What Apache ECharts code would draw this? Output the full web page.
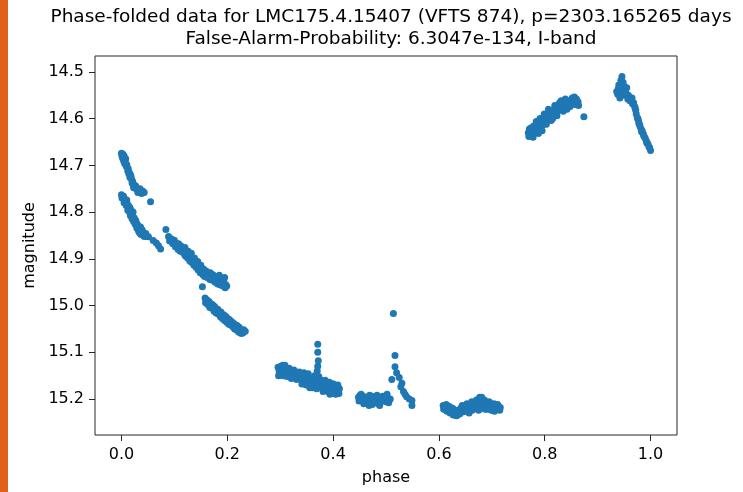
<!DOCTYPE html>
<html>
<head>
<meta charset="utf-8">
<script src="https://cdn.jsdelivr.net/npm/echarts@6/dist/echarts.min.js"></script>
<style>
html,body{margin:0;padding:0;background:#fff;}
#chart{width:743px;height:492px;}
</style>
</head>
<body>
<div id="chart"></div>
<script>
// ---- data (phase, magnitude), by segment ----
const upperStartPhase = [0.000,0.003,0.005,0.002,0.006,0.008,0.007,0.010,0.011,0.013,0.012,0.015,0.017,0.016,0.019,0.021,0.022,0.024,0.026,0.028,0.030,0.033,0.036,0.040,0.043,0.055,
  0.004,0.009,0.014,0.018,0.020,0.023,0.027,0.031,0.035,0.038,0.001,0.006];
const upperStartMag   = [14.674,14.676,14.680,14.684,14.688,14.686,14.694,14.698,14.704,14.708,14.712,14.716,14.720,14.726,14.730,14.734,14.740,14.742,14.746,14.750,14.752,14.754,14.756,14.755,14.758,14.778,
  14.690,14.702,14.718,14.724,14.738,14.748,14.744,14.758,14.750,14.760,14.680,14.696];

const lowerStartPhase = [0.000,0.002,0.004,0.006,0.008,0.010,0.011,0.013,0.014,0.016,0.018,0.019,0.021,0.022,0.024,0.025,0.027,0.028,0.030,0.031,0.033,0.035,0.036,0.038,0.040,0.042,0.045,0.048,0.051,0.060,0.066,0.070,0.074,
  0.001,0.005,0.009,0.012,0.015,0.017,0.020,0.023,0.026,0.029,0.032,0.034,0.037,0.039,0.043,0.046];
const lowerStartMag   = [14.763,14.768,14.766,14.772,14.778,14.774,14.782,14.786,14.792,14.790,14.796,14.802,14.806,14.800,14.812,14.816,14.818,14.824,14.826,14.830,14.834,14.838,14.832,14.842,14.846,14.844,14.850,14.852,14.853,14.861,14.866,14.872,14.879,
  14.770,14.780,14.786,14.796,14.800,14.808,14.814,14.820,14.826,14.834,14.840,14.844,14.848,14.838,14.852,14.846];

const midBandPhase = [0.084,0.089,0.092,0.095,0.098,0.100,0.103,0.105,0.108,0.110,0.112,0.115,0.117,0.120,0.122,0.124,0.126,0.128,0.130,0.132,0.134,0.136,0.138,0.140,0.142,0.144,0.146,0.148,0.150,0.152,0.155,0.158,0.160,0.163,0.165,0.168,0.170,0.173,0.176,0.178,0.180,0.183,0.186,0.188,0.190,0.193,0.195,0.197,0.199,0.153,0.185,
  0.091,0.097,0.102,0.107,0.111,0.116,0.121,0.125,0.129,0.133,0.137,0.141,0.145,0.149,0.154,0.157,0.162,0.167,0.172,0.177,0.182,0.187,0.192,0.196,0.119,0.131];
const midBandMag   = [14.837,14.852,14.856,14.858,14.862,14.860,14.866,14.870,14.868,14.874,14.872,14.878,14.882,14.876,14.886,14.890,14.884,14.892,14.896,14.888,14.900,14.904,14.898,14.908,14.912,14.906,14.916,14.920,14.914,14.924,14.922,14.928,14.926,14.930,14.934,14.930,14.936,14.934,14.940,14.938,14.944,14.942,14.948,14.944,14.950,14.946,14.940,14.955,14.958,14.960,14.935,
  14.862,14.868,14.874,14.880,14.884,14.886,14.894,14.898,14.904,14.908,14.914,14.918,14.924,14.930,14.934,14.938,14.940,14.944,14.946,14.950,14.954,14.956,14.958,14.962,14.890,14.906];

const lowBandPhase = [0.158,0.160,0.162,0.164,0.166,0.168,0.170,0.172,0.174,0.176,0.178,0.180,0.182,0.184,0.186,0.188,0.190,0.192,0.194,0.196,0.198,0.200,0.202,0.204,0.206,0.208,0.210,0.212,0.215,0.218,0.220,0.222,0.225,0.228,0.231,0.234,
  0.159,0.163,0.167,0.171,0.175,0.179,0.183,0.187,0.191,0.195,0.199,0.203,0.207,0.211,0.214,0.217,0.221,0.224,0.227,0.230];
const lowBandMag   = [14.984,14.990,14.988,14.994,14.992,14.996,15.000,14.998,15.004,15.002,15.006,15.010,15.008,15.012,15.016,15.014,15.018,15.022,15.020,15.026,15.024,15.028,15.032,15.030,15.036,15.034,15.040,15.038,15.044,15.042,15.048,15.046,15.050,15.054,15.052,15.055,
  14.994,14.998,15.004,15.006,15.012,15.016,15.018,15.024,15.028,15.032,15.036,15.040,15.042,15.046,15.050,15.052,15.056,15.058,15.060,15.058];

const plateau1Phase = [0.296,0.298,0.300,0.303,0.305,0.307,0.310,0.312,0.315,0.318,0.320,0.322,0.325,0.328,0.330,0.332,0.335,0.338,0.340,0.342,0.344,0.346,0.348,0.350,0.352,0.354,0.356,0.358,0.360,0.362,0.364,0.366,0.368,0.370,0.372,0.374,0.376,0.378,0.380,0.382,0.384,0.386,0.388,0.390,0.392,0.394,0.396,0.398,0.400,0.402,0.404,0.406,0.408,0.410,0.412,0.371,0.371,0.372,0.371,0.370,
  0.297,0.301,0.306,0.309,0.313,0.317,0.321,0.326,0.331,0.336,0.341,0.345,0.349,0.353,0.357,0.361,0.365,0.369,0.373,0.377,0.381,0.385,0.389,0.393,0.397,0.401,0.405,0.409,0.411];
const plateau1Mag   = [15.132,15.140,15.146,15.136,15.128,15.142,15.138,15.146,15.140,15.144,15.150,15.142,15.146,15.152,15.144,15.150,15.156,15.148,15.152,15.160,15.166,15.150,15.156,15.162,15.154,15.170,15.176,15.160,15.156,15.166,15.160,15.170,15.156,15.164,15.174,15.160,15.168,15.176,15.166,15.172,15.180,15.168,15.176,15.184,15.172,15.190,15.178,15.168,15.176,15.184,15.172,15.180,15.176,15.182,15.178,15.083,15.100,15.118,15.130,15.140,
  15.150,15.130,15.150,15.128,15.152,15.134,15.156,15.138,15.158,15.142,15.168,15.144,15.170,15.146,15.166,15.176,15.150,15.178,15.152,15.160,15.184,15.160,15.166,15.164,15.188,15.168,15.190,15.170,15.188];

const plateau2Phase = [0.448,0.451,0.454,0.456,0.459,0.461,0.464,0.466,0.469,0.471,0.474,0.476,0.479,0.481,0.484,0.486,0.489,0.491,0.494,0.497,0.500,0.503,0.506,0.508,0.514,0.517,0.517,0.511,0.520,0.525,0.528,0.530,0.533,0.536,0.539,0.544,0.549,0.549,
  0.449,0.453,0.458,0.463,0.468,0.473,0.478,0.483,0.488,0.493,0.498,0.502,0.505];
const plateau2Mag   = [15.196,15.192,15.200,15.194,15.202,15.196,15.206,15.198,15.192,15.204,15.212,15.200,15.196,15.206,15.200,15.210,15.198,15.204,15.194,15.200,15.206,15.198,15.202,15.200,15.017,15.107,15.131,15.158,15.144,15.154,15.174,15.166,15.184,15.190,15.195,15.200,15.203,15.214,
  15.204,15.190,15.210,15.196,15.214,15.194,15.208,15.192,15.214,15.204,15.196,15.190,15.208];

const minimumPhase = [0.608,0.611,0.614,0.617,0.620,0.623,0.626,0.629,0.632,0.635,0.638,0.641,0.644,0.647,0.650,0.653,0.656,0.659,0.662,0.665,0.668,0.671,0.674,0.677,0.680,0.683,0.686,0.689,0.692,0.695,0.698,0.701,0.704,0.707,0.710,0.713,0.716,
  0.609,0.615,0.621,0.627,0.633,0.639,0.645,0.651,0.657,0.663,0.669,0.675,0.681,0.687,0.693,0.699,0.705,0.711,0.715];
const minimumMag   = [15.214,15.218,15.212,15.222,15.216,15.226,15.220,15.230,15.224,15.234,15.228,15.220,15.214,15.226,15.218,15.210,15.222,15.214,15.206,15.218,15.210,15.202,15.214,15.196,15.206,15.218,15.202,15.210,15.222,15.206,15.214,15.220,15.210,15.216,15.222,15.216,15.218,
  15.222,15.226,15.230,15.234,15.236,15.232,15.228,15.226,15.230,15.224,15.220,15.224,15.196,15.222,15.214,15.224,15.226,15.212,15.224];

const risePhase = [0.769,0.771,0.773,0.776,0.778,0.780,0.782,0.784,0.786,0.788,0.790,0.792,0.794,0.796,0.798,0.800,0.802,0.804,0.806,0.808,0.810,0.812,0.814,0.816,0.818,0.820,0.822,0.824,0.826,0.828,0.830,0.832,0.834,0.836,0.838,0.840,0.843,0.846,0.850,0.853,0.856,0.858,0.861,0.864,0.874,
  0.770,0.774,0.779,0.783,0.787,0.791,0.795,0.799,0.803,0.807,0.811,0.815,0.819,0.823,0.827,0.831,0.835,0.839,0.842,0.848,0.852,0.857,0.860,0.863];
const riseMag   = [14.630,14.622,14.636,14.626,14.640,14.630,14.618,14.606,14.624,14.632,14.612,14.620,14.604,14.614,14.608,14.598,14.606,14.592,14.600,14.588,14.596,14.604,14.584,14.592,14.580,14.588,14.576,14.584,14.572,14.566,14.578,14.570,14.574,14.562,14.570,14.564,14.572,14.566,14.560,14.566,14.554,14.562,14.568,14.572,14.596,
  14.638,14.620,14.616,14.628,14.612,14.600,14.626,14.590,14.612,14.580,14.590,14.600,14.572,14.594,14.580,14.562,14.584,14.558,14.580,14.574,14.556,14.570,14.558,14.564];

const peakPhase = [0.946,0.944,0.948,0.940,0.950,0.936,0.942,0.946,0.952,0.955,0.938,0.944,0.948,0.942,0.958,0.962,0.965,0.968,0.970,0.972,0.973,0.975,0.977,0.978,0.980,0.982,0.984,0.986,0.988,0.990,0.992,0.995,0.998,1.000,
  0.939,0.953,0.957,0.961,0.966,0.971,0.976,0.979,0.983,0.987,0.993,0.997];
const peakMag   = [14.510,14.518,14.522,14.528,14.530,14.542,14.536,14.540,14.536,14.534,14.548,14.546,14.550,14.556,14.550,14.556,14.556,14.566,14.574,14.582,14.590,14.598,14.604,14.610,14.616,14.622,14.626,14.632,14.638,14.642,14.648,14.654,14.662,14.668,
  14.536,14.544,14.558,14.562,14.568,14.578,14.600,14.612,14.628,14.636,14.652,14.660];

const xTicks = [0.0, 0.2, 0.4, 0.6, 0.8, 1.0];
const yTicks = [14.5, 14.6, 14.7, 14.8, 14.9, 15.0, 15.1, 15.2];

const titleLines = ['Phase-folded data for LMC175.4.15407 (VFTS 874), p=2303.165265 days',
                    'False-Alarm-Probability: 6.3047e-134, I-band'];

// ---- build ----
const segments = [
  [upperStartPhase, upperStartMag], [lowerStartPhase, lowerStartMag],
  [midBandPhase, midBandMag], [lowBandPhase, lowBandMag],
  [plateau1Phase, plateau1Mag], [plateau2Phase, plateau2Mag],
  [minimumPhase, minimumMag], [risePhase, riseMag], [peakPhase, peakMag]
];
const points = [];
segments.forEach(([ph, mg]) => ph.forEach((p, i) => points.push([p, mg[i]])));

const FONT = 'DejaVu Sans';
const INK = '#262626';
const chart = echarts.init(document.getElementById('chart'), null, {renderer: 'canvas'});
chart.setOption({
  animation: false,
  backgroundColor: '#ffffff',
  textStyle: {fontFamily: FONT},
  title: {
    text: titleLines.join('\n'),
    left: 386, top: 1, textAlign: 'center',
    textStyle: {fontFamily: FONT, fontSize: 18.5, fontWeight: 'normal', color: '#000', lineHeight: 22}
  },
  graphic: [{
    type: 'rect', shape: {x: 0, y: 0, width: 8, height: 492},
    style: {fill: '#e0611c'}, silent: true
  }],
  grid: {
    left: 95, top: 56, width: 582, height: 379,
    show: true, borderColor: INK, borderWidth: 1, backgroundColor: 'transparent'
  },
  xAxis: {
    type: 'value', min: -0.05, max: 1.05,
    name: 'phase', nameLocation: 'middle', nameGap: 35,
    nameTextStyle: {fontFamily: FONT, fontSize: 16, color: '#000'},
    axisLine: {show: false, onZero: false},
    axisTick: {show: true, length: 6, inside: false, customValues: xTicks, lineStyle: {color: INK, width: 1}},
    axisLabel: {customValues: xTicks, formatter: v => Number(v).toFixed(1), fontFamily: FONT, fontSize: 16, color: '#000', margin: 12},
    splitLine: {show: false}
  },
  yAxis: {
    type: 'value', inverse: true, min: 14.466, max: 15.277,
    name: 'magnitude', nameLocation: 'middle', nameGap: 51, nameRotate: 90,
    nameTextStyle: {fontFamily: FONT, fontSize: 16, color: '#000'},
    axisLine: {show: false, onZero: false},
    axisTick: {show: true, length: 6, inside: false, customValues: yTicks, lineStyle: {color: INK, width: 1}},
    axisLabel: {customValues: yTicks, formatter: v => Number(v).toFixed(1), fontFamily: FONT, fontSize: 16, color: '#000', margin: 11},
    splitLine: {show: false}
  },
  series: [{
    type: 'scatter',
    data: points,
    symbol: 'circle',
    symbolSize: 7,
    itemStyle: {color: '#1f77b4', opacity: 1},
    emphasis: {disabled: true},
    silent: true
  }]
});
</script>
</body>
</html>
